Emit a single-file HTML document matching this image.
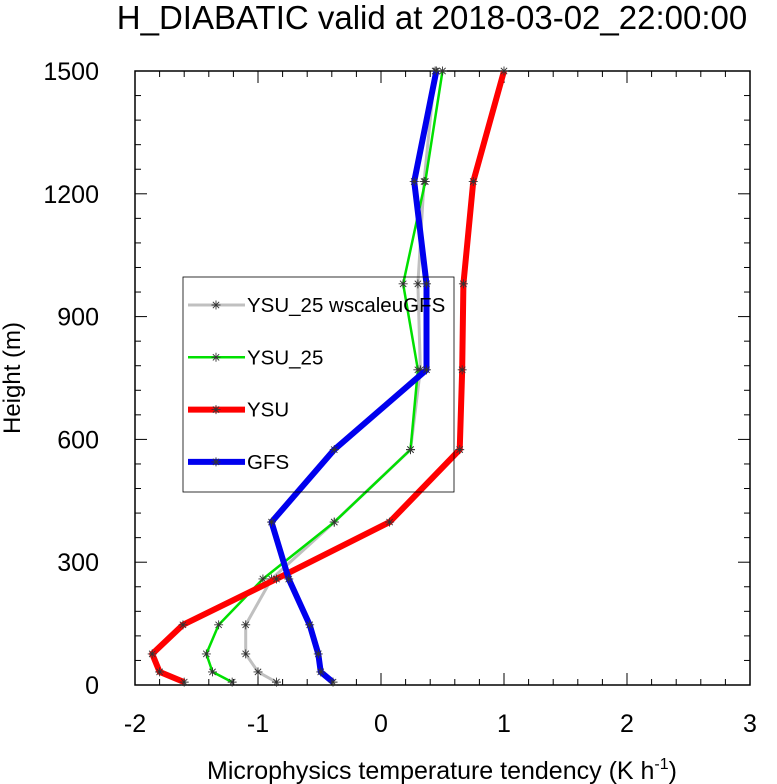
<!DOCTYPE html>
<html><head><meta charset="utf-8"><style>body{margin:0;background:#fff}svg{display:block;font-family:"Liberation Sans",sans-serif}</style></head>
<body>
<svg id="c" width="777" height="784">
<text x="432" y="29" font-size="33" text-anchor="middle">H_DIABATIC valid at 2018-03-02_22:00:00</text>
<text x="442" y="779" font-size="25" text-anchor="middle">Microphysics temperature tendency (K h<tspan dy="-10" font-size="16">-1</tspan><tspan dy="10">)</tspan></text>
<text transform="translate(20,378) rotate(-90)" font-size="24" text-anchor="middle">Height (m)</text>
<g id="plot"></g>
</svg>
<script>
const heights=[7,32,76,147,259,398,575,770,980,1230,1500];
const gfs=[-0.39,-0.49,-0.51,-0.58,-0.75,-0.89,-0.38,0.37,0.37,0.27,0.45];
const ysu=[-1.60,-1.80,-1.86,-1.61,-0.85,0.07,0.64,0.66,0.67,0.75,1.0];
const ysu25=[-1.21,-1.37,-1.42,-1.32,-0.96,-0.38,0.24,0.30,0.18,0.36,0.50];
const gray=[-0.85,-1.0,-1.10,-1.10,-0.89,-0.38,0.24,0.32,0.30,0.35,0.44];
const xTicks=[-2,-1,0,1,2,3];
const yTicks=[0,300,600,900,1200,1500];
const L=135,R=750,T=71,B=685;
const X=v=>L+(v+2)/5*(R-L), Y=v=>B-v/1500*(B-T);
const NS="http://www.w3.org/2000/svg",g=document.getElementById('plot');
function mk(t,a,p){const e=document.createElementNS(NS,t);for(const k in a)e.setAttribute(k,a[k]);(p||g).appendChild(e);return e;}
function star(x,y,p){const s=4.5;mk('path',{d:`M${x-s},${y}H${x+s}M${x},${y-s}V${y+s}M${x-s*.7},${y-s*.7}L${x+s*.7},${y+s*.7}M${x-s*.7},${y+s*.7}L${x+s*.7},${y-s*.7}`,stroke:'#333','stroke-width':0.9,fill:'none'},p);}
const frame=mk('rect',{x:L,y:T,width:R-L,height:B-T,fill:'none',stroke:'#000','stroke-width':1.5});

for(let v=-2;v<=3.001;v+=0.2){const x=X(v),maj=Math.abs(v-Math.round(v))<1e-6,l=maj?12:6;
 mk('line',{x1:x,y1:B,x2:x,y2:B-l,stroke:'#000','stroke-width':1});mk('line',{x1:x,y1:T,x2:x,y2:T+l,stroke:'#000','stroke-width':1});}
for(let v=0;v<=1500;v+=60){const y=Y(v),maj=v%300==0,l=maj?12:6;
 mk('line',{x1:L,y1:y,x2:L+l,y2:y,stroke:'#000','stroke-width':1});mk('line',{x1:R,y1:y,x2:R-l,y2:y,stroke:'#000','stroke-width':1});}
xTicks.forEach(v=>{const t=mk('text',{x:X(v),y:B+47,'font-size':25,'text-anchor':'middle'});t.textContent=v;
 });
yTicks.forEach(v=>{const t=mk('text',{x:L-36,y:Y(v)+9,'font-size':25,'text-anchor':'end'});t.textContent=v;
 });
const series=[[gray,'#c0c0c0',3,'ysu25-wscaleugfs-line'],[ysu25,'#00e000',2.5,'ysu25-line'],[ysu,'#ff0000',6,'ysu-line'],[gfs,'#0000ee',6,'gfs-line']];
series.forEach(([d,c,w,n])=>{const sg=mk('g',{});
 mk('polyline',{points:d.map((v,i)=>X(v)+','+Y(heights[i])).join(' '),fill:'none',stroke:c,'stroke-width':w,'stroke-linejoin':'round'},sg);
 d.forEach((v,i)=>star(X(v),Y(heights[i]),sg));});
const lg=mk('g',{});
mk('rect',{x:183,y:277,width:271,height:215,fill:'none',stroke:'#000','stroke-width':0.8},lg);
const names=['YSU_25 wscaleuGFS','YSU_25','YSU','GFS'];
names.forEach((nm,i)=>{const y=305+i*52.3,[d,c,w]=series[i];const e=mk('g',{},lg);
 
 mk('line',{x1:188,y1:y,x2:245,y2:y,stroke:c,'stroke-width':w},e);star(216,y,e);
 const t=mk('text',{x:247,y:y+7,'font-size':20.5},e);t.textContent=nm;});
</script>
</body></html>
